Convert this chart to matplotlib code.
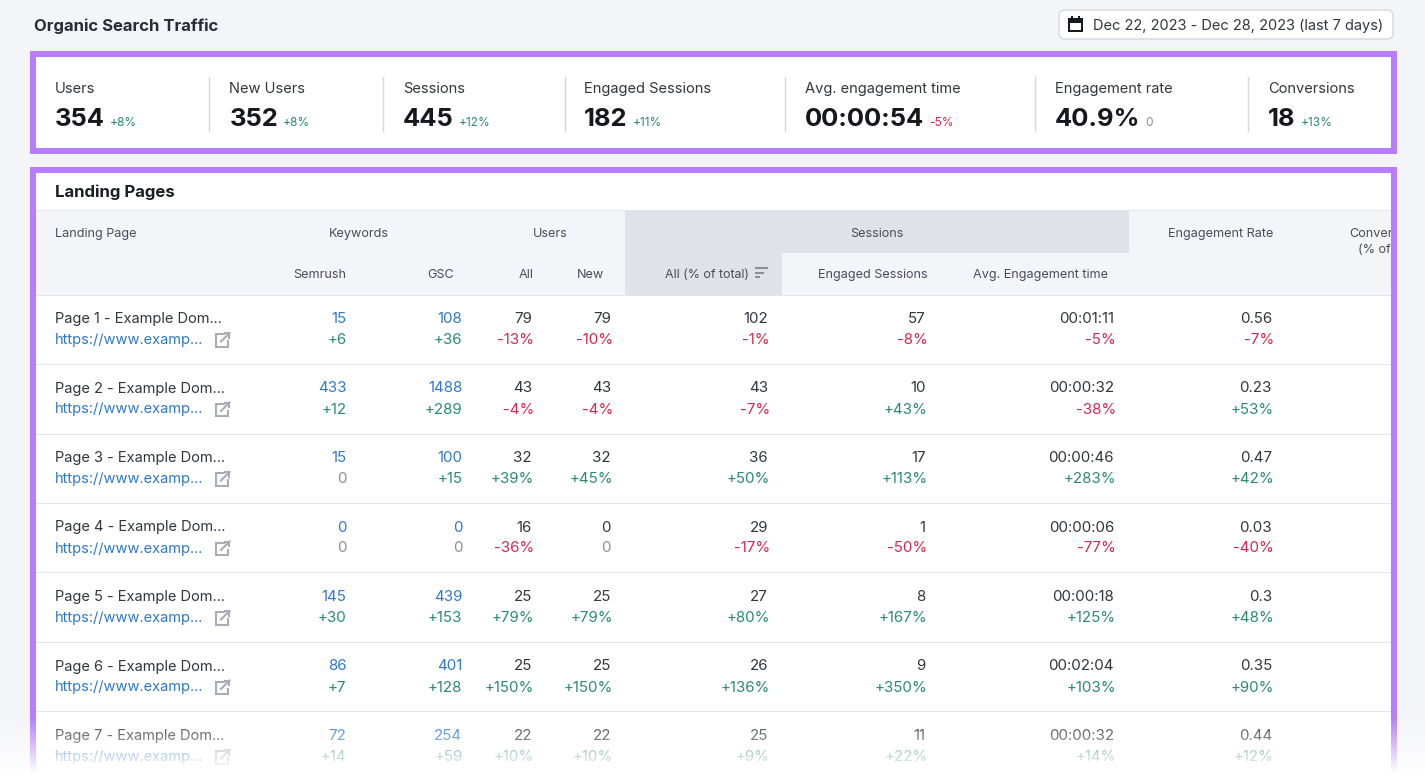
import numpy as np
import matplotlib
matplotlib.use("Agg")
import matplotlib.pyplot as plt
from matplotlib.patches import Rectangle, FancyBboxPatch

plt.rcParams['font.family'] = ['Inter', 'DejaVu Sans']

# ---------- data ----------
title = "Organic Search Traffic"
date_range = "Dec 22, 2023 - Dec 28, 2023 (last 7 days)"
kpi_labels = ["Users", "New Users", "Sessions", "Engaged Sessions",
              "Avg. engagement time", "Engagement rate", "Conversions"]
kpi_values = ["354", "352", "445", "182", "00:00:54", "40.9%", "18"]
kpi_deltas = ["+8%", "+8%", "+12%", "+11%", "-5%", "0", "+13%"]

pages = [f"Page {i} - Example Dom..." for i in range(1, 8)]
url_text = "https://www.examp..."
semrush = ["15", "433", "15", "0", "145", "86", "72"]
semrush_d = ["+6", "+12", "0", "0", "+30", "+7", "+14"]
gsc = ["108", "1488", "100", "0", "439", "401", "254"]
gsc_d = ["+36", "+289", "+15", "0", "+153", "+128", "+59"]
users = ["79", "43", "32", "16", "25", "25", "22"]
users_d = ["-13%", "-4%", "+39%", "-36%", "+79%", "+150%", "+10%"]
new_users = ["79", "43", "32", "0", "25", "25", "22"]
new_users_d = ["-10%", "-4%", "+45%", "0", "+79%", "+150%", "+10%"]
sessions = ["102", "43", "36", "29", "27", "26", "25"]
sessions_d = ["-1%", "-7%", "+50%", "-17%", "+80%", "+136%", "+9%"]
engaged = ["57", "10", "17", "1", "8", "9", "11"]
engaged_d = ["-8%", "+43%", "+113%", "-50%", "+167%", "+350%", "+22%"]
avg_time = ["00:01:11", "00:00:32", "00:00:46", "00:00:06", "00:00:18", "00:02:04", "00:00:32"]
avg_time_d = ["-5%", "-38%", "+283%", "-77%", "+125%", "+103%", "+14%"]
rate = ["0.56", "0.23", "0.47", "0.03", "0.3", "0.35", "0.44"]
rate_d = ["-7%", "+53%", "+42%", "-40%", "+48%", "+90%", "+12%"]

# ---------- style ----------
BG = "#f4f5f9"
PURPLE = "#b77dfc"
INK = "#33353f"
DARK = "#17181f"
BLUE = "#2f78cc"
GREEN = "#2a8a70"
RED = "#d92650"
GREY = "#8b8f9b"
LINE = "#e4e5ec"
HDR = "#e0e1e9"
FS = 10.55
VFS = 10.85


def delta_color(s):
    return GREEN if s.startswith("+") else RED if s.startswith("-") else GREY


fig = plt.figure(figsize=(14.25, 7.8), dpi=100, facecolor=BG)
ax = fig.add_axes([0, 0, 1, 1])
ax.set_xlim(0, 1425)
ax.set_ylim(780, 0)
ax.axis("off")


def rect(x0, y0, x1, y1, color, z=1):
    ax.add_patch(Rectangle((x0, y0), x1 - x0, y1 - y0, fc=color, ec="none", zorder=z))


def txt(x, y, s, size=FS, color=INK, ha="left", weight="normal", z=5):
    return ax.text(x, y, s, fontsize=size, color=color, ha=ha, va="baseline",
                   fontweight=weight, zorder=z)


# top bar
txt(34, 31, title, size=12, color="#2a2c35", weight="bold")
ax.add_patch(FancyBboxPatch((1059, 10), 334, 29, boxstyle="round,pad=0,rounding_size=6",
                            fc="white", ec="#d6d8e0", lw=1, zorder=2))
rect(1068.5, 18, 1083, 32, DARK, 3)
rect(1070.5, 23, 1081, 30, "white", 4)
rect(1071.5, 16, 1073.5, 19, DARK, 4)
rect(1078, 16, 1080, 19, DARK, 4)
txt(1093, 30, date_range, size=10.5)

# KPI card
rect(36, 57, 1391, 148, "white")
kpi_x = [55, 229.5, 403, 584, 805, 1055, 1268]
div_x = [209.5, 383.5, 565, 785.5, 1035, 1248]
for x in div_x:
    ax.plot([x, x], [77, 131], color="#d5d7dd", lw=1, zorder=2)
renderer = fig.canvas.get_renderer()
for x, lab, val, d in zip(kpi_x, kpi_labels, kpi_values, kpi_deltas):
    txt(x, 93, lab, size=10.55)
    t = txt(x, 126, val, size=18.4, color=DARK, weight="bold")
    w = t.get_window_extent(renderer).width
    txt(x + w + 5, 126, d, size=8.6, color=delta_color(d))

# table card
rect(36, 173, 1391, 780, "white")
txt(55, 197, "Landing Pages", size=12.1, color="#1d1f27", weight="bold")
rect(36, 210, 1391, 211, LINE, 2)
rect(36, 211, 1391, 295, BG, 1.5)
rect(36, 295, 1391, 296, LINE, 2)
rect(625, 211, 1129, 253, HDR, 2)
rect(625, 253, 782, 295, HDR, 2)

HS = 9.1
HC = "#4a4d59"
txt(55, 237, "Landing Page", size=HS, color=HC)
txt(359, 237, "Keywords", size=HS, color=HC, ha="center")
txt(550, 237, "Users", size=HS, color=HC, ha="center")
txt(877, 237, "Sessions", size=HS, color=HC, ha="center")
txt(1221, 237, "Engagement Rate", size=HS, color=HC, ha="center")
txt(1349, 237, "Conversions", size=HS, color=HC, z=3)
txt(1358, 253, "(% of total)", size=HS, color=HC, z=3)
txt(346.5, 278, "Semrush", size=HS, color=HC, ha="right")
txt(454, 278, "GSC", size=HS, color=HC, ha="right")
txt(534, 278, "All", size=HS, color=HC, ha="right")
txt(604, 278, "New", size=HS, color=HC, ha="right")
txt(749, 278, "All (% of total)", size=8.95, color=HC, ha="right")
txt(927.5, 278, "Engaged Sessions", size=HS, color=HC, ha="right")
txt(1108, 278, "Avg. Engagement time", size=HS, color=HC, ha="right")
for x0, x1, y in [(755, 768, 268), (755, 764.5, 272.5), (755, 760, 277)]:
    ax.plot([x0, x1], [y, y], color="#8b8f9b", lw=1.5, zorder=5, solid_capstyle="butt")

# rows
row_mid = [329, 398.5, 468, 537.5, 607, 676.5, 746]
for sep in [364.5, 434, 503.5, 572.5, 642, 711]:
    rect(36, sep - 0.5, 1391, sep + 0.5, LINE, 2)

columns = [
    (346.5, semrush, semrush_d, BLUE),
    (462.5, gsc, gsc_d, BLUE),
    (532, users, users_d, INK),
    (611, new_users, new_users_d, INK),
    (768, sessions, sessions_d, INK),
    (925.5, engaged, engaged_d, INK),
    (1114, avg_time, avg_time_d, INK),
    (1272, rate, rate_d, INK),
]
for i, mid in enumerate(row_mid):
    y1, y2 = mid - 6, mid + 15
    txt(55, y1, pages[i])
    txt(55, y2, url_text, color=BLUE)
    # external-link glyph
    ic = "#a9acb6"
    yc = mid + 11
    ax.plot([224, 216.5, 216.5, 228, 228], [yc - 6, yc - 6, yc + 6.5, yc + 6.5, yc + 1],
            color=ic, lw=1.5, zorder=5, solid_joinstyle="miter")
    ax.plot([221, 229.5], [yc + 1.5, yc - 7], color=ic, lw=1.5, zorder=5)
    ax.plot([225, 229.5, 229.5], [yc - 7, yc - 7, yc - 2.5], color=ic, lw=1.5, zorder=5)
    for x, vals, ds, col in columns:
        txt(x, y1, vals[i], size=VFS, color=col, ha="right")
        off = 2 if ds[i].endswith("%") else 0
        txt(x + off, y2, ds[i], size=VFS, color=delta_color(ds[i]), ha="right")

# purple frames (above the table so the cut-off column is clipped)
rect(30, 51, 1397, 57, PURPLE, 6)
rect(30, 148, 1397, 154, PURPLE, 6)
rect(30, 51, 36, 154, PURPLE, 6)
rect(1391, 51, 1397, 154, PURPLE, 6)
rect(30, 167, 1397, 173, PURPLE, 6)
rect(30, 167, 36, 780, PURPLE, 6)
rect(1391, 167, 1397, 780, PURPLE, 6)
rect(1397, 167, 1425, 780, BG, 6)

# fade to white at the bottom
alpha = np.clip((np.linspace(715, 780, 65) - 715) / 58, 0, 1) ** 1.1
grad = np.ones((65, 1, 4))
grad[:, 0, 3] = alpha
ax.imshow(grad, extent=(0, 1425, 780, 715), aspect="auto", zorder=8, interpolation="bilinear")
ax.set_xlim(0, 1425)
ax.set_ylim(780, 0)

fig.savefig("out.png", dpi=100, facecolor=BG)
